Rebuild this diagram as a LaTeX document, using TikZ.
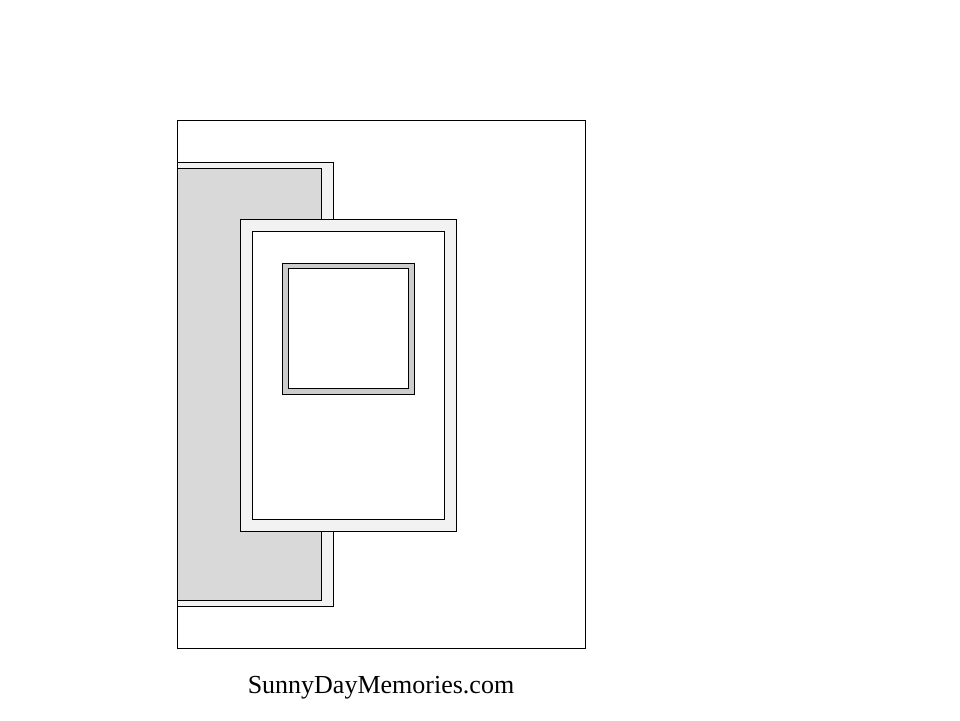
\documentclass[tikz,border=0pt]{standalone}
\usepackage{fontspec}
\setmainfont{Liberation Serif}
\usetikzlibrary{positioning}

\begin{document}
\begin{tikzpicture}[x=0.02cm,y=-0.02cm,line width=0.5pt,
                       base/.style={draw=black,fill=white},
                       mat/.style={draw=black,fill=gray!10},
                       panel/.style={draw=black,fill=gray!30},
                       photo mat/.style={draw=black,fill=gray!40}
                      ]
   \useasboundingbox (0,0) rectangle (960,720);
   % card base
   \draw[base] (177,120) rectangle (585,648);
   % left panel
   \draw[mat] (177,162) rectangle (333,606);
   \draw[panel] (177,168) rectangle (321,600);
   % centre card
   \draw[mat] (240,219) rectangle (456,531);
   \draw[base] (252,231) rectangle (444,519);
   % photo
   \draw[photo mat] (282,263) rectangle (414,394);
   \draw[base] (288,268) rectangle (408,388);

   \node[font=\fontsize{14.8}{17}\selectfont] (site) at (381,688) {SunnyDayMemories.com};
\end{tikzpicture}
\end{document}
